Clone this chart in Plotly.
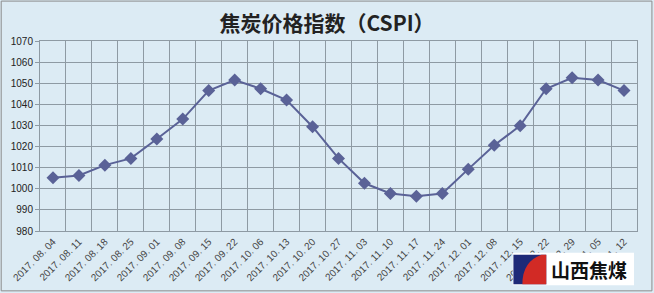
import plotly.graph_objects as go

dates = ["2017.08.04", "2017.08.11", "2017.08.18", "2017.08.25", "2017.09.01",
         "2017.09.08", "2017.09.15", "2017.09.22", "2017.10.06", "2017.10.13",
         "2017.10.20", "2017.10.27", "2017.11.03", "2017.11.10", "2017.11.17",
         "2017.11.24", "2017.12.01", "2017.12.08", "2017.12.15", "2017.12.22",
         "2017.12.29", "2018.01.05", "2018.01.12"]
cspi = [1005.2, 1006.3, 1011.2, 1014.4, 1023.6, 1033.0, 1046.5, 1051.5, 1047.4,
        1042.0, 1029.4, 1014.4, 1002.6, 997.8, 996.5, 997.8, 1009.3, 1020.6,
        1029.9, 1047.4, 1052.6, 1051.5, 1046.5]
tick_labels = ["2017. 08. 04", "2017. 08. 11", "2017. 08. 18", "2017. 08. 25", "2017. 09. 01",
               "2017. 09. 08", "2017. 09. 15", "2017. 09. 22", "2017. 10. 06", "2017. 10. 13",
               "2017. 10. 20", "2017. 10. 27", "2017. 11. 03", "2017. 11. 10", "2017. 11. 17",
               "2017. 11. 24", "2017. 12. 01", "2017. 12. 08", "2017. 12. 15", "2017. 12. 22",
               "2017. 12. 29", "2018. 01. 05", "2018. 01. 12"]
title = "焦炭价格指数（CSPI）"

bg = "#DCEBF4"
grid = "#8E9AA3"
line_c = "#5A6297"

fig = go.Figure()
fig.add_trace(go.Scatter(
    x=dates, y=cspi, mode="lines+markers",
    line=dict(color=line_c, width=2),
    marker=dict(symbol="diamond", size=10, color=line_c),
    showlegend=False, hoverinfo="x+y"))

fig.update_layout(
    width=654, height=293,
    margin=dict(l=40, r=17, t=41, b=62),
    paper_bgcolor=bg, plot_bgcolor=bg,
    title=dict(text="<b>" + title + "</b>", x=0.5, xanchor="center", y=0.92, yanchor="middle",
               font=dict(family="Noto Sans CJK SC", size=21, color="#222222")),
    xaxis=dict(type="category", tickson="boundaries", tickvals=dates, ticktext=tick_labels,
               tickangle=-45, showgrid=True, gridcolor=grid, gridwidth=1, automargin=False,
               range=[-0.5, 22.5],
               showline=True, linecolor=grid, mirror=True, ticks="",
               tickfont=dict(family="Liberation Sans", size=10, color="#444444")),
    yaxis=dict(range=[980, 1070], dtick=10, showgrid=True, gridcolor=grid, gridwidth=1,
               showline=True, linecolor=grid, mirror=True, ticks="outside", ticklen=4,
               tickcolor=grid, zeroline=False, automargin=False,
               tickfont=dict(family="Liberation Sans", size=10, color="#222222")),
    shapes=[
        dict(type="rect", xref="paper", yref="paper", x0=-0.065, x1=1.025, y0=-0.315, y1=1.21,
             line=dict(color="#8C8C8C", width=1), fillcolor="rgba(0,0,0,0)", layer="below"),
    ],
)

# logo watermark
fig.add_shape(type="rect", xref="paper", yref="paper", x0=0.792, x1=0.995, y0=-0.285, y1=-0.115,
              fillcolor="#FFFFFF", line=dict(width=0))
fig.add_shape(type="rect", xref="paper", yref="paper", x0=0.793, x1=0.848, y0=-0.28, y1=-0.125,
              fillcolor="#1E2A78", line=dict(width=0))
fig.add_shape(type="path", xref="paper", yref="paper",
              path="M 0.808 -0.28 L 0.848 -0.28 L 0.848 -0.125 L 0.840 -0.125 Q 0.808 -0.16 0.808 -0.28 Z",
              fillcolor="#D22A25", line=dict(width=0))
fig.add_annotation(text="<b>山西焦煤</b>", xref="paper", yref="paper", x=0.853, y=-0.205,
                   xanchor="left", yanchor="middle", showarrow=False,
                   font=dict(family="Noto Sans CJK SC", size=19, color="#111111"))

fig.write_html("out.html")
